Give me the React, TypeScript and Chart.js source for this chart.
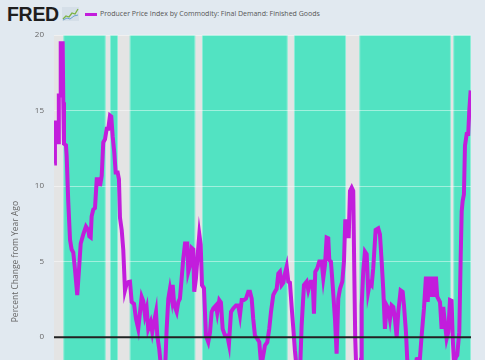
import React, { useEffect, useRef } from "react";
import { Chart, registerables } from "chart.js";

Chart.register(...registerables);

// Decimal year of each observation
const years = [
  1974.03, 1974.11, 1974.31, 1974.37, 1974.5, 1974.56, 1974.7, 1974.78, 1975.01, 1975.08,
  1975.16, 1975.39, 1975.47, 1975.66, 1975.86, 1976.05, 1976.24, 1976.44, 1976.7, 1976.9,
  1977.1, 1977.4, 1977.71, 1977.98, 1978.1, 1978.26, 1978.37, 1978.56, 1978.76, 1978.96,
  1979.26, 1979.34, 1979.54, 1979.72, 1979.92, 1980.12, 1980.3, 1980.5, 1980.65, 1980.81,
  1981.0, 1981.16, 1981.39, 1981.54, 1981.66, 1981.86, 1982.04, 1982.24, 1982.44, 1982.62,
  1982.82, 1983.02, 1983.29, 1983.52, 1983.78, 1984.18, 1984.36, 1984.56, 1984.76, 1984.94,
  1985.22, 1985.41, 1985.61, 1985.84, 1985.99, 1986.22, 1986.42, 1986.59, 1986.77, 1986.94,
  1987.08, 1987.27, 1987.46, 1987.66, 1987.78, 1987.96, 1988.24, 1988.43, 1988.62, 1988.82,
  1989.01, 1989.21, 1989.47, 1989.59, 1989.79, 1989.98, 1990.17, 1990.28, 1990.48, 1990.68,
  1990.87, 1991.03, 1991.18, 1991.41, 1991.64, 1991.91, 1992.11, 1992.3, 1992.49, 1992.8,
  1992.95, 1993.19, 1993.38, 1993.58, 1993.85, 1994.12, 1994.31, 1994.55, 1994.81, 1995.13,
  1995.39, 1995.59, 1995.79, 1996.05, 1996.29, 1996.55, 1996.75, 1996.95, 1997.13, 1997.33,
  1997.6, 1997.83, 1997.99, 1998.22, 1998.49, 1998.76, 1998.99, 1999.19, 1999.46, 1999.65,
  1999.85, 2000.04, 2000.23, 2000.43, 2000.62, 2000.81, 2001.01, 2001.2, 2001.39, 2001.59,
  2001.78, 2001.97, 2002.24, 2002.44, 2002.61, 2002.75, 2003.02, 2003.33, 2003.52, 2003.8,
  2004.03, 2004.18, 2004.33, 2004.56, 2004.8, 2005.07, 2005.26, 2005.46, 2005.65, 2005.84,
  2005.96, 2006.15, 2006.35, 2006.62, 2006.81, 2007.0, 2007.2, 2007.47, 2007.66, 2007.81,
  2008.05, 2008.21, 2008.36, 2008.56, 2008.74, 2008.86, 2008.97, 2009.14, 2009.29, 2009.46,
  2009.64, 2009.72, 2009.9, 2010.1, 2010.3, 2010.48, 2010.68, 2010.88, 2011.06, 2011.34,
  2011.64, 2011.84, 2012.04, 2012.22, 2012.42, 2012.62, 2012.8, 2013.0, 2013.2, 2013.39,
  2013.58, 2013.78, 2013.97, 2014.24, 2014.48, 2014.63, 2014.86, 2015.01, 2015.21, 2015.56,
  2015.9, 2016.1, 2016.48, 2016.68, 2016.95, 2017.18, 2017.38, 2017.56, 2017.76, 2017.96,
  2018.14, 2018.34, 2018.49, 2018.81, 2019.0, 2019.19, 2019.39, 2019.58, 2019.77, 2019.97,
  2020.16, 2020.28, 2020.43, 2020.66, 2020.81, 2021.05, 2021.21, 2021.33, 2021.44, 2021.59,
  2021.71, 2021.91, 2022.09, 2022.21, 2022.37,
];

// Percent change from year ago
const ppiYoY = [
  11.5, 14.2, 14.2, 12.9, 12.9, 16.0, 16.0, 19.45, 19.45, 15.55,
  12.8, 12.7, 12.0, 8.9, 6.45, 5.8, 5.6, 4.45, 2.78, 4.45,
  6.2, 6.8, 7.33, 7.1, 6.67, 6.6, 8.0, 8.45, 8.55, 10.45,
  10.45, 10.0, 10.7, 12.9, 13.1, 13.8, 13.8, 14.67, 14.6, 13.3,
  12.2, 10.9, 10.9, 10.45, 7.9, 7.1, 5.8, 3.1, 3.55, 3.65,
  3.67, 2.33, 2.2, 1.2, 0.55, 2.67, 2.4, 1.45, 1.9, 0.55,
  1.0, 0.33, 1.0, 1.67, 0.1, -0.8, -2.0, -3.0, -3.3, -1.5,
  0.55, 2.55, 3.2, 2.55, 3.45, 2.1, 1.67, 2.33, 2.55, 3.9,
  5.2, 6.2, 6.2, 4.33, 4.75, 5.9, 5.8, 3.0, 3.9, 5.45,
  6.8, 6.13, 3.45, 3.25, 0.1, -0.33, 0.3, 1.67, 1.9, 2.1,
  1.6, 2.45, 2.3, 0.55, 0.1, 0.1, -0.45, 1.67, 1.9, 2.1,
  2.1, 1.45, 2.45, 2.45, 2.55, 3.0, 3.0, 2.55, 1.2, 0.1,
  -0.1, -0.33, -1.45, -1.45, -0.55, -0.33, 0.55, 1.67, 2.8, 3.0,
  3.2, 4.2, 4.33, 3.45, 3.6, 4.2, 4.67, 3.67, 3.6, 2.0,
  0.6, -0.9, -2.5, -2.8, -1.5, 0.8, 3.45, 3.67, 3.1, 3.67,
  3.67, 1.55, 4.33, 4.55, 5.0, 5.0, 3.9, 4.78, 6.6, 6.55,
  5.1, 5.0, 3.45, 1.2, -1.1, 2.55, 3.2, 3.67, 5.0, 7.67,
  7.67, 6.55, 9.67, 9.9, 9.67, 4.33, -0.1, -3.0, -5.0, -6.0,
  -1.5, 2.1, 4.33, 5.67, 5.5, 3.0, 3.6, 3.45, 4.55, 7.1,
  7.2, 6.8, 5.0, 3.2, 0.55, 2.1, 1.9, 1.2, 2.1, 2.0,
  1.2, 0.0, 1.67, 3.1, 3.0, 2.1, 0.33, -1.5, -2.8, -3.3,
  -2.5, -1.45, -1.4, 0.1, 1.9, 4.0, 2.33, 4.0, 2.67, 4.0,
  2.67, 4.0, 2.67, 2.33, 0.55, 2.0, 0.9, -0.1, 0.33, 2.45,
  2.4, 0.1, -1.8, -1.33, -1.2, 0.33, 5.2, 8.33, 9.0, 9.45,
  12.67, 13.45, 13.45, 15.0, 16.33,
];

// Highlighted (green) periods, decimal years
const greenStarts = [1975.08, 1980.5, 1982.79, 1991.18, 2001.86, 2009.44, 2020.35];
const greenEnds = [1980.0, 1981.43, 1990.4, 2001.13, 2007.9, 2020.08, 2022.41];

const xMin = 1974.0;
const xMax = 2022.41;
const yMin = -10;
const yMax = 20;
const yStep = 5;

const seriesLabel = "Producer Price Index by Commodity: Final Demand: Finished Goods";
const yTitle = "Percent Change from Year Ago";

const LINE = "#c21ddc";
const GREEN = "#52e3c2";
const PLOT_BG = "#e4e4e4";
const PAGE_BG = "#e1e9f0";

const shadingPlugin = {
  id: "shading",
  beforeDraw(chart: any) {
    const { ctx, chartArea, scales } = chart;
    const x = scales.x;
    ctx.save();
    ctx.fillStyle = PLOT_BG;
    ctx.fillRect(chartArea.left, chartArea.top, chartArea.right - chartArea.left, chartArea.bottom - chartArea.top);
    for (let i = 0; i < greenStarts.length; i++) {
      const a = x.getPixelForValue(greenStarts[i]);
      const b = x.getPixelForValue(greenEnds[i]);
      ctx.fillStyle = GREEN;
      ctx.fillRect(a, chartArea.top, b - a, chartArea.bottom - chartArea.top);
      ctx.strokeStyle = "rgba(255,255,255,0.35)";
      ctx.lineWidth = 1;
      ctx.strokeRect(a + 0.5, chartArea.top, b - a - 1, chartArea.bottom - chartArea.top);
    }
    ctx.restore();
  },
  afterDatasetsDraw(chart: any) {
    const { ctx, chartArea, scales } = chart;
    const y0 = scales.y.getPixelForValue(0);
    ctx.save();
    ctx.strokeStyle = "#222";
    ctx.lineWidth = 2;
    ctx.beginPath();
    ctx.moveTo(chartArea.left, y0);
    ctx.lineTo(chartArea.right, y0);
    ctx.stroke();
    ctx.restore();
  },
};

function FredIcon() {
  return (
    <svg width="17" height="14" viewBox="0 0 17 14" style={{ position: "absolute", left: 62, top: 7 }}>
      <rect x="0" y="0" width="17" height="14" fill="#d5dfe8" />
      <polyline points="1,12 4,9 7,10 10,6 13,7 16,2" fill="none" stroke="#7cb342" strokeWidth="1.3" />
      <polyline points="1,13 5,11 8,12 12,9 16,8" fill="none" stroke="#6a9fd0" strokeWidth="1" />
    </svg>
  );
}

export default function App() {
  const ref = useRef<HTMLCanvasElement | null>(null);

  useEffect(() => {
    if (!ref.current) return;
    const chart = new Chart(ref.current, {
      type: "line",
      data: {
        datasets: [
          {
            label: seriesLabel,
            data: years.map((yr, i) => ({ x: yr, y: ppiYoY[i] })),
            borderColor: LINE,
            backgroundColor: LINE,
            borderWidth: 4,
            pointRadius: 0,
            tension: 0,
            fill: false,
          },
        ],
      },
      options: {
        animation: false,
        responsive: false,
        maintainAspectRatio: false,
        events: [],
        layout: { padding: { top: 35, right: 14, bottom: 10, left: 0 } },
        plugins: { legend: { display: false }, tooltip: { enabled: false } },
        scales: {
          x: { type: "linear", min: xMin, max: xMax, display: false },
          y: {
            min: yMin,
            max: yMax,
            afterFit(scale: any) {
              scale.width = 54;
            },
            ticks: {
              stepSize: yStep,
              padding: 10,
              color: "#666",
              font: { family: "'Open Sans'", size: 8 },
            },
            grid: {
              drawTicks: false,
              color: (c: any) => (c.tick && c.tick.value === 0 ? "rgba(0,0,0,0)" : "rgba(255,255,255,0.45)"),
              lineWidth: 1,
            },
            border: { display: false },
            title: {
              display: true,
              text: yTitle,
              color: "#666",
              font: { family: "'Open Sans'", size: 8.5 },
              padding: { top: 10, bottom: 0 },
            },
          },
        },
      },
      plugins: [shadingPlugin],
    });
    return () => chart.destroy();
  }, []);

  return (
    <div style={{ position: "fixed", left: 0, top: 0, width: 485, height: 360, overflow: "hidden", background: PAGE_BG }}>
      <div
        style={{
          position: "absolute",
          left: 7,
          top: 5,
          font: "bold 19.5px 'Liberation Sans', Arial, sans-serif",
          lineHeight: "19.5px",
          color: "#1e1e1e",
          letterSpacing: "-0.3px",
        }}
      >
        FRED
      </div>
      <FredIcon />
      <div style={{ position: "absolute", left: 85, top: 12.5, width: 12, height: 3, background: LINE }} />
      <div
        style={{
          position: "absolute",
          left: 100,
          top: 9,
          font: "7px 'Open Sans', sans-serif",
          lineHeight: "10px",
          color: "#555",
          whiteSpace: "nowrap",
        }}
      >
        {seriesLabel}
      </div>
      <canvas ref={ref} width={485} height={503} style={{ position: "absolute", left: 0, top: 0 }} />
    </div>
  );
}
